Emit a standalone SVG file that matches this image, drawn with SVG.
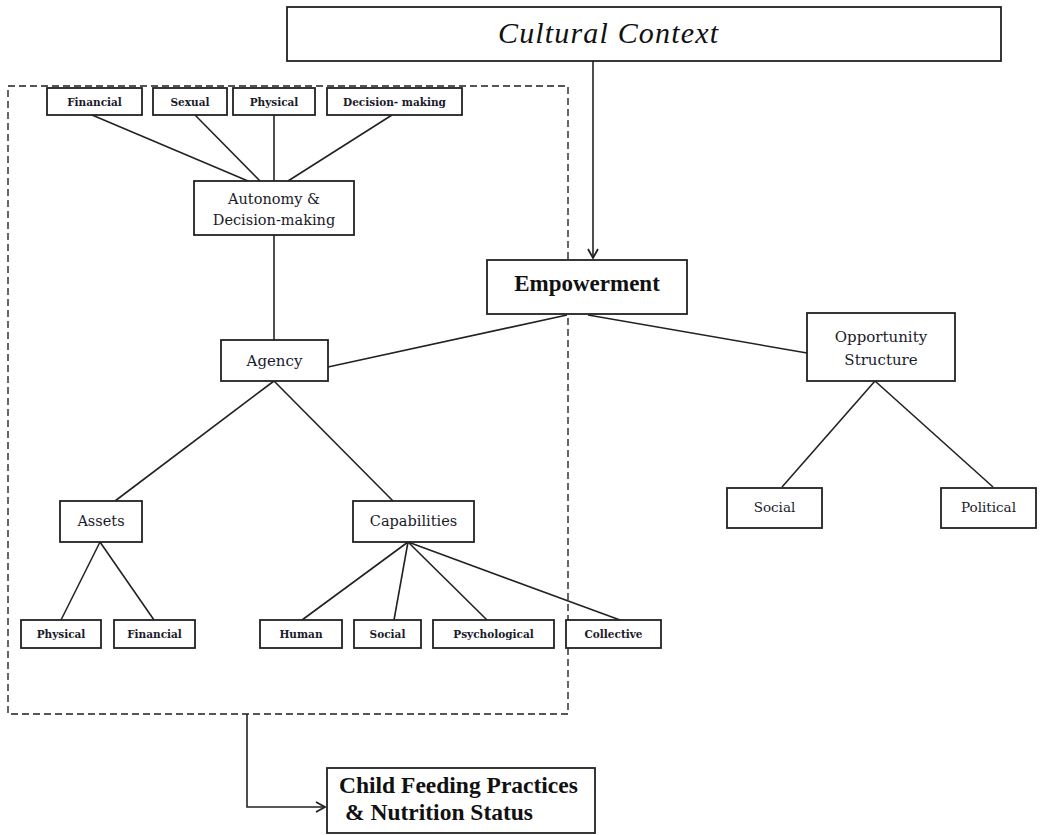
<svg xmlns="http://www.w3.org/2000/svg" width="1040" height="835" viewBox="0 0 1040 835">
<style>
.box{fill:#fff;stroke:#222;stroke-width:1.8}
.ln{stroke:#222;stroke-width:1.6;fill:none}
.t{font-family:"DejaVu Serif","Liberation Serif",serif;fill:#1a1a2a;text-anchor:middle}
.s{font-size:10.5px;font-weight:bold}
.m{font-size:14.5px}
.dash{fill:none;stroke:#555;stroke-width:1.8;stroke-dasharray:7 4}
</style>
<defs>
<marker id="arr" markerWidth="12" markerHeight="12" refX="10" refY="6" orient="auto" markerUnits="userSpaceOnUse">
<path d="M1,1 L10,6 L1,11" fill="none" stroke="#222" stroke-width="1.8"/>
</marker>
</defs>
<rect x="0" y="0" width="1040" height="835" fill="#fff"/>

<rect id="cluster" class="dash" x="8" y="86" width="560" height="628"/>

<g id="connectors">
<line class="ln" x1="593" y1="61" x2="593" y2="258" marker-end="url(#arr)"/>
<line class="ln" x1="92" y1="115" x2="248" y2="181"/>
<line class="ln" x1="195" y1="115" x2="260" y2="181"/>
<line class="ln" x1="274" y1="115" x2="274" y2="181"/>
<line class="ln" x1="392" y1="115" x2="288" y2="181"/>
<line class="ln" x1="274" y1="235" x2="274" y2="340"/>
<line class="ln" x1="567" y1="315" x2="328" y2="367"/>
<line class="ln" x1="588" y1="315" x2="807" y2="353"/>
<line class="ln" x1="875" y1="381" x2="782" y2="487"/>
<line class="ln" x1="875" y1="381" x2="993" y2="487"/>
<line class="ln" x1="274" y1="381" x2="115" y2="501"/>
<line class="ln" x1="274" y1="381" x2="393" y2="501"/>
<line class="ln" x1="100" y1="542" x2="61" y2="620"/>
<line class="ln" x1="100" y1="542" x2="154" y2="620"/>
<line class="ln" x1="408" y1="542" x2="302" y2="620"/>
<line class="ln" x1="408" y1="542" x2="394" y2="620"/>
<line class="ln" x1="408" y1="542" x2="487" y2="620"/>
<line class="ln" x1="408" y1="542" x2="620" y2="620"/>
<polyline class="ln" points="247,714 247,807 325,807" marker-end="url(#arr)"/>
</g>

<g id="cultural">
<rect class="box" x="287" y="7" width="714" height="54"/>
<text x="498" y="43" font-family="Liberation Serif, DejaVu Serif, serif" font-style="italic" font-size="30" fill="#111" textLength="220">Cultural Context</text>
</g>

<g id="a-financial"><rect class="box" x="47" y="88" width="95" height="27"/><text class="t s" x="94.5" y="106">Financial</text></g>
<g id="a-sexual"><rect class="box" x="153" y="88" width="74" height="27"/><text class="t s" x="190" y="106">Sexual</text></g>
<g id="a-physical"><rect class="box" x="233" y="88" width="82" height="27"/><text class="t s" x="274" y="106">Physical</text></g>
<g id="a-decision"><rect class="box" x="327" y="88" width="135" height="27"/><text class="t s" x="394.5" y="106">Decision- making</text></g>

<g id="autonomy"><rect class="box" x="194" y="181" width="160" height="54"/>
<text class="t m" x="274" y="204">Autonomy &amp;</text>
<text class="t m" x="274" y="225">Decision-making</text></g>

<g id="agency"><rect class="box" x="221" y="340" width="107" height="41"/><text class="t" font-size="15" x="274.5" y="366">Agency</text></g>

<g id="empowerment"><rect class="box" x="487" y="260" width="200" height="54"/><text x="587" y="291" text-anchor="middle" font-family="Liberation Serif, serif" font-size="23" font-weight="bold" fill="#111">Empowerment</text></g>

<g id="opportunity"><rect class="box" x="807" y="313" width="148" height="68"/>
<text class="t" font-size="15" x="881" y="342">Opportunity</text>
<text class="t" font-size="15" x="881" y="365">Structure</text></g>

<g id="o-social"><rect class="box" x="727" y="488" width="95" height="40"/><text class="t" font-size="13.5" x="774.5" y="512">Social</text></g>
<g id="o-political"><rect class="box" x="941" y="488" width="95" height="40"/><text class="t" font-size="13.5" x="988.5" y="512">Political</text></g>

<g id="assets"><rect class="box" x="60" y="501" width="82" height="41"/><text class="t m" x="101" y="526">Assets</text></g>
<g id="capabilities"><rect class="box" x="353" y="501" width="121" height="41"/><text class="t m" x="413.5" y="526">Capabilities</text></g>

<g id="as-physical"><rect class="box" x="21" y="620" width="80" height="28"/><text class="t s" x="61" y="638">Physical</text></g>
<g id="as-financial"><rect class="box" x="114" y="620" width="81" height="28"/><text class="t s" x="154.5" y="638">Financial</text></g>
<g id="c-human"><rect class="box" x="260" y="620" width="82" height="28"/><text class="t s" x="301" y="638">Human</text></g>
<g id="c-social"><rect class="box" x="354" y="620" width="67" height="28"/><text class="t s" x="387.5" y="638">Social</text></g>
<g id="c-psych"><rect class="box" x="433" y="620" width="121" height="28"/><text class="t s" x="493.5" y="638">Psychological</text></g>
<g id="c-collective"><rect class="box" x="566" y="620" width="95" height="28"/><text class="t s" x="613.5" y="638">Collective</text></g>

<g id="child"><rect class="box" x="327" y="768" width="268" height="65"/>
<text x="339" y="793" font-family="Liberation Serif, serif" font-weight="bold" font-size="23.5" fill="#111">Child Feeding Practices</text>
<text x="345" y="820" font-family="Liberation Serif, serif" font-weight="bold" font-size="23.5" fill="#111">&amp; Nutrition Status</text></g>
</svg>
